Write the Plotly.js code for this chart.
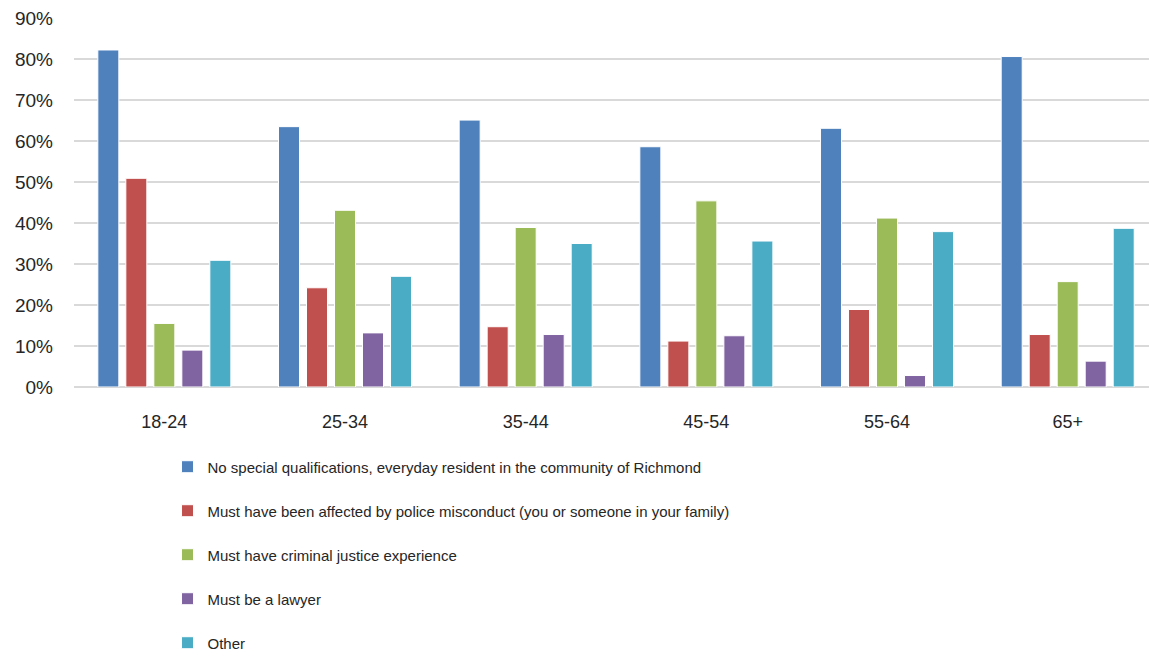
<!DOCTYPE html>
<html>
<head>
<meta charset="utf-8">
<script src="https://cdn.plot.ly/plotly-3.0.1.min.js"></script>
<style>html,body{margin:0;padding:0;background:#fff;}#chart{width:1149px;height:660px;}</style>
</head>
<body>
<div id="chart"></div>
<script>
const categories = ["18-24", "25-34", "35-44", "45-54", "55-64", "65+"];
const seriesNames = [
  "No special qualifications, everyday resident in the community of Richmond",
  "Must have been affected by police misconduct (you or someone in your family)",
  "Must have criminal justice experience",
  "Must be a lawyer",
  "Other"
];
const noSpecial = [0.822, 0.635, 0.651, 0.586, 0.631, 0.806];
const affected = [0.509, 0.242, 0.147, 0.112, 0.189, 0.128];
const criminalJustice = [0.155, 0.431, 0.389, 0.454, 0.412, 0.257];
const lawyer = [0.090, 0.132, 0.128, 0.125, 0.028, 0.063];
const other = [0.309, 0.270, 0.350, 0.356, 0.379, 0.387];
const colors = ["#4F81BD", "#C0504D", "#9BBB59", "#8064A2", "#4BACC6"];
const tickVals = [0, 0.1, 0.2, 0.3, 0.4, 0.5, 0.6, 0.7, 0.8, 0.9];
const tickText = ["0%", "10%", "20%", "30%", "40%", "50%", "60%", "70%", "80%", "90%"];

const allSeries = [noSpecial, affected, criminalJustice, lawyer, other];
const fontFam = "'Liberation Sans', Arial, sans-serif";

const traces = allSeries.map((vals, i) => ({
  type: "bar",
  name: seriesNames[i],
  x: categories,
  y: vals,
  legendgroup: "g" + i,
  marker: {color: colors[i], line: {color: "#ffffff", width: 1}},
  hoverinfo: "x+y+name"
}));

const layout = {
  width: 1149,
  height: 660,
  margin: {l: 74, r: 0, t: 18, b: 273},
  paper_bgcolor: "#ffffff",
  plot_bgcolor: "#ffffff",
  barmode: "group",
  bargap: 0.225,
  bargroupgap: 0.25,
  font: {family: fontFam, color: "#262626", size: 18},
  xaxis: {
    type: "category",
    range: [-0.5, 5.45],
    showgrid: false,
    showline: false,
    ticks: "",
    ticklabelstandoff: 22,
    tickfont: {size: 18, family: fontFam, color: "#262626"}
  },
  yaxis: {
    range: [0, 0.9],
    tickvals: tickVals,
    ticktext: tickText,
    showgrid: true,
    gridcolor: "#D9D9D9",
    gridwidth: 2,
    zeroline: true,
    zerolinecolor: "#D9D9D9",
    zerolinewidth: 2,
    showline: false,
    ticks: "",
    ticklabelstandoff: 20,
    tickfont: {size: 19, family: fontFam, color: "#262626"}
  },
  showlegend: true,
  legend: {
    orientation: "v",
    x: 0.087,
    xanchor: "left",
    y: -0.172,
    yanchor: "top",
    font: {size: 15, family: fontFam, color: "#262626"},
    tracegroupgap: 21.5,
    bgcolor: "rgba(0,0,0,0)"
  }
};

Plotly.newPlot("chart", traces, layout, {displayModeBar: false, staticPlot: true});
</script>
</body>
</html>
